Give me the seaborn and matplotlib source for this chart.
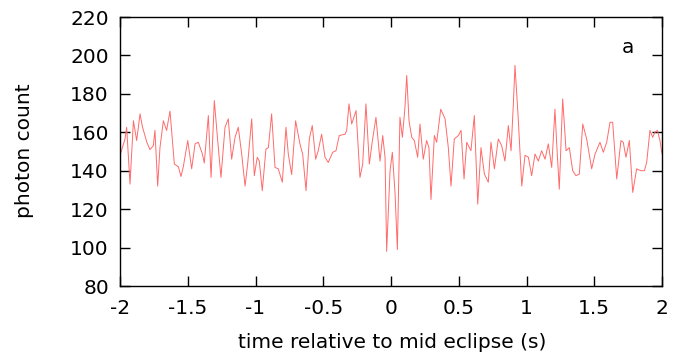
import matplotlib
matplotlib.use("Agg")
import matplotlib.pyplot as plt
import seaborn as sns
import pandas as pd

time_s = [
    -2.000, -1.963, -1.951, -1.926, -1.901, -1.877, -1.852, -1.835, -1.803, -1.779,
    -1.754, -1.742, -1.722, -1.705, -1.680, -1.656, -1.631, -1.599, -1.569, -1.550,
    -1.533, -1.500, -1.471, -1.446, -1.422, -1.392, -1.378, -1.348, -1.328, -1.304,
    -1.279, -1.255, -1.225, -1.201, -1.176, -1.151, -1.127, -1.102, -1.077, -1.058,
    -1.028, -1.009,
    -0.987, -0.972, -0.950, -0.923, -0.905, -0.881, -0.856, -0.832, -0.802, -0.775,
    -0.758, -0.733, -0.704, -0.672, -0.652, -0.627, -0.603, -0.581, -0.556, -0.537,
    -0.512, -0.487, -0.463, -0.430, -0.406, -0.382, -0.339, -0.327, -0.310, -0.290,
    -0.258, -0.229, -0.209, -0.185, -0.160, -0.139, -0.111, -0.081, -0.061, -0.044,
    -0.032, -0.007, 0.010, 0.030, 0.047, 0.066, 0.084, 0.103, 0.116, 0.133,
    0.153, 0.172, 0.197, 0.214, 0.238, 0.263, 0.280, 0.295, 0.320, 0.337,
    0.367, 0.399, 0.423, 0.443, 0.467, 0.497, 0.517, 0.539, 0.559, 0.590,
    0.615, 0.640, 0.664, 0.689, 0.718, 0.738, 0.763, 0.792, 0.817, 0.841,
    0.866, 0.886, 0.903, 0.915, 0.940, 0.965, 0.989,
    1.014, 1.038, 1.063, 1.087, 1.112, 1.137, 1.161, 1.186, 1.210, 1.223,
    1.242, 1.267, 1.292, 1.316, 1.341, 1.365, 1.390, 1.415, 1.444, 1.481,
    1.506, 1.542, 1.567, 1.592, 1.616, 1.636, 1.666, 1.697, 1.714, 1.734,
    1.759, 1.784, 1.813, 1.843, 1.870, 1.887, 1.911, 1.931, 1.948, 1.966,
    1.985, 2.000,
]

photon_count = [
    148, 156.5, 162.6, 133, 166, 155.7, 169.6, 163, 155, 151,
    153, 161, 132, 152, 166, 161, 171, 143.5, 142, 137,
    142, 155.7, 141, 154, 154.8, 148.7, 144, 168.7, 136.5, 176.5,
    155.7, 136.5, 162.6, 167, 146, 157.4, 162.6, 148.7, 132, 143.5,
    167, 137.4,
    147, 145, 129.6, 151.3, 152, 169.6, 141.7, 141, 134, 162.6,
    148.7, 138, 166, 154, 148.7, 129.6, 156.5, 163.5, 146, 150.4,
    159, 147, 144.3, 149.6, 150.4, 158.3, 159, 160.9, 174.8, 164.3,
    171.3, 136.5, 143.5, 174.8, 143.5, 154.8, 167.8, 145, 158.3, 147,
    98, 140, 149.6, 128, 99, 167.8, 157.4, 173, 189.6, 166,
    157.4, 155.7, 147, 164.3, 146, 155.7, 152, 125, 158.3, 154.8,
    172, 167, 152, 132, 156.5, 158.3, 161, 135.7, 154.8, 150.4,
    168.7, 122.6, 152, 138.3, 134, 154.8, 141, 156.5, 153, 145,
    163.5, 150.4, 174.8, 194.8, 166, 132, 148,
    147, 137.4, 148.7, 145, 150.4, 146, 154, 141.7, 172, 154,
    130.4, 177.4, 150.4, 152, 140, 137.4, 138.3, 164.3, 156.5, 141,
    148.7, 154.8, 149.6, 154.8, 165.2, 165.2, 135.7, 155.7, 154.8, 147,
    155.7, 128.7, 141, 140, 140, 144.3, 161, 157.4, 160, 161,
    155.7, 148.7,
]

x_ticks = [-2, -1.5, -1, -0.5, 0, 0.5, 1, 1.5, 2]
x_tick_labels = ["-2", "-1.5", "-1", "-0.5", "0", "0.5", "1", "1.5", "2"]
y_ticks = [80, 100, 120, 140, 160, 180, 200, 220]

sns.set_theme(style="ticks")
plt.rcParams["font.family"] = ["DejaVu Sans"]
plt.rcParams["text.color"] = "black"

df = pd.DataFrame({"t": time_s, "count": photon_count})

fig = plt.figure(figsize=(6.82, 3.55), dpi=100)
ax = fig.add_axes([120 / 682, 1 - 286 / 355, 542 / 682, 269 / 355])

sns.lineplot(data=df, x="t", y="count", ax=ax, color="#ff6a6a",
             linewidth=0.7, sort=False, estimator=None)

ax.set_xlim(-2, 2)
ax.set_ylim(80, 220)
ax.set_xticks(x_ticks)
ax.set_xticklabels(x_tick_labels)
ax.set_yticks(y_ticks)
ax.tick_params(direction="in", length=7, width=1, top=True, right=True,
               labelsize=14.5, colors="black")
ax.tick_params(axis="x", pad=9)
ax.tick_params(axis="y", pad=8)
for s in ax.spines.values():
    s.set_visible(True)
    s.set_linewidth(1.0)
    s.set_color("black")

ax.set_xlabel("")
ax.set_ylabel("")
fig.text(392 / 682, 1 - 343 / 355, "time relative to mid eclipse (s)",
         fontsize=14.5, ha="center", va="center", color="black")
fig.text(25 / 682, 1 - 151 / 355, "photon count", fontsize=14.5,
         rotation=90, ha="center", va="center", color="black")
ax.text(0.937, 0.885, "a", transform=ax.transAxes, fontsize=14.5,
        ha="center", va="center", color="black")

fig.savefig("out.png", dpi=100)
